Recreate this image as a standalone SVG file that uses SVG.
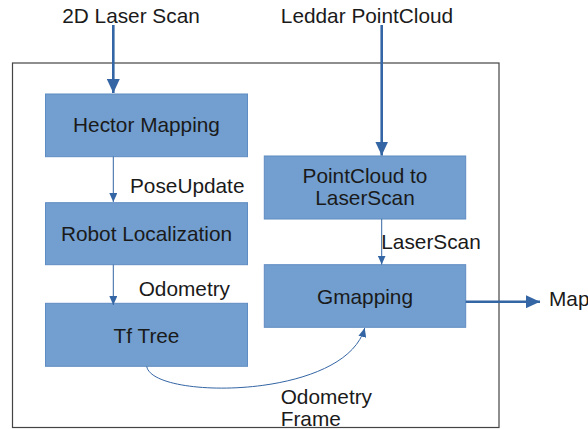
<svg xmlns="http://www.w3.org/2000/svg" width="588" height="429" viewBox="0 0 588 429">
<style>
.node rect{fill:#729fcf;stroke:#5f8cc2;stroke-width:1}
text{font-family:"Liberation Sans",Arial,sans-serif;font-size:20.8px;fill:#1a1a1a}
.c{text-anchor:middle}
.thick{stroke:#3465a4;stroke-width:2.6;fill:none}
.thin{stroke:#3465a4;stroke-width:1;fill:none}
</style>
<defs>
<marker id="big" markerUnits="userSpaceOnUse" markerWidth="15" markerHeight="13" refX="14" refY="6.5" orient="auto"><path d="M0,0 L14,6.5 L0,13 Z" fill="#3465a4"/></marker>
<marker id="small" markerUnits="userSpaceOnUse" markerWidth="10" markerHeight="8" refX="9" refY="4" orient="auto"><path d="M0,0 L9,4 L0,8 Z" fill="#3465a4"/></marker>
</defs>
<rect x="12.5" y="63" width="486.5" height="364.5" fill="#fff" stroke="#444" stroke-width="1.2"/>
<g id="hector" class="node"><rect x="45.5" y="94" width="202" height="62.7"/><text class="c" x="146.5" y="132">Hector Mapping</text></g>
<g id="robot" class="node"><rect x="45.5" y="202.7" width="202" height="62"/><text class="c" x="146.5" y="241">Robot Localization</text></g>
<g id="tf" class="node"><rect x="45.5" y="303.3" width="202" height="63"/><text class="c" x="146.5" y="342.5">Tf Tree</text></g>
<g id="pc2ls" class="node"><rect x="264.3" y="156" width="201.4" height="63"/><text class="c" x="365" y="183">PointCloud to</text><text class="c" x="365" y="204.5">LaserScan</text></g>
<g id="gmapping" class="node"><rect x="264.3" y="264.7" width="201.4" height="62.6"/><text class="c" x="365" y="304">Gmapping</text></g>
<g id="connectors">
<path class="thick" d="M113.3,25 V93" marker-end="url(#big)"/>
<path class="thick" d="M381.7,25 V155.5" marker-end="url(#big)"/>
<path class="thin" d="M113.3,156.7 V202" marker-end="url(#small)"/>
<path class="thin" d="M113.3,264.7 V305" marker-end="url(#small)"/>
<path class="thin" d="M381.7,219 V264.5" marker-end="url(#small)"/>
<path class="thick" d="M465.7,301.7 H540" marker-end="url(#big)"/>
<path class="thin" d="M146.7,366.3 C152,400 345,400 364.7,328" marker-end="url(#small)"/>
</g>
<g id="labels">
<text class="c" x="131" y="23.3">2D Laser Scan</text>
<text class="c" x="367" y="23.3">Leddar PointCloud</text>
<text x="130" y="193.3">PoseUpdate</text>
<text x="138.7" y="295.7">Odometry</text>
<text x="381.3" y="249">LaserScan</text>
<text x="549" y="305.7">Map</text>
<text x="280.7" y="404">Odometry</text>
<text x="280.7" y="425.7">Frame</text>
</g>
</svg>
